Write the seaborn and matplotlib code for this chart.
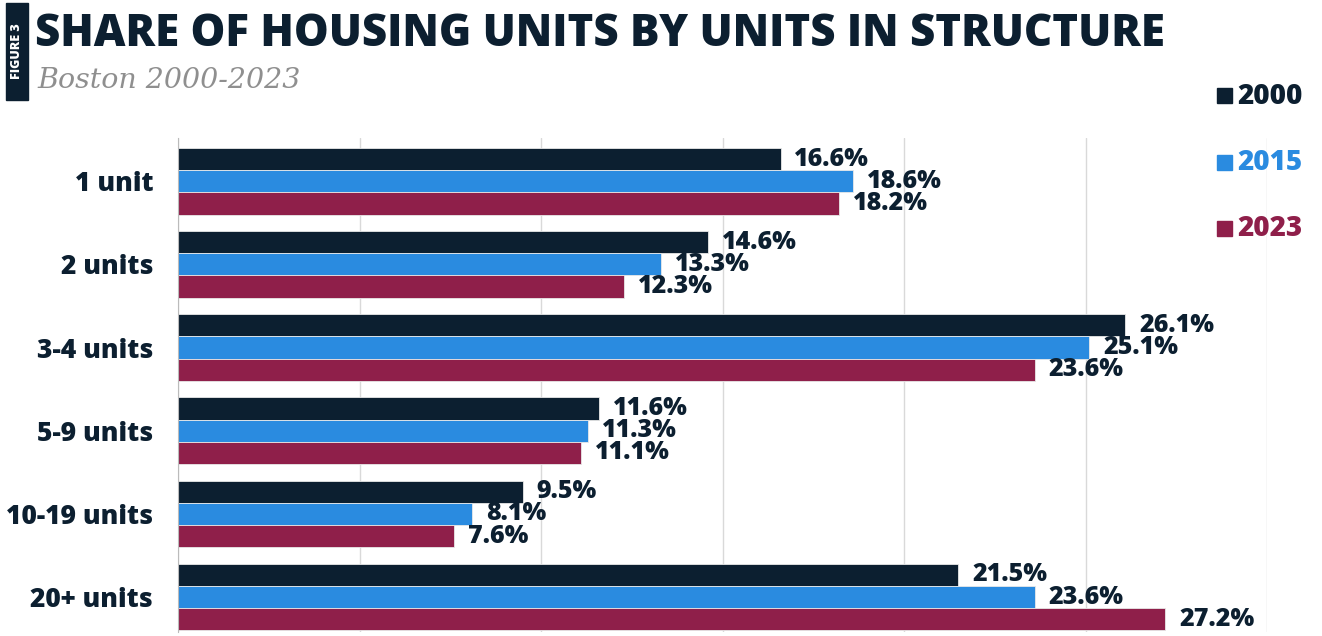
import matplotlib
matplotlib.use("Agg")
import matplotlib.pyplot as plt
import seaborn as sns
import pandas as pd
from matplotlib.patches import Rectangle

# data
categories = ["1 unit", "2 units", "3-4 units", "5-9 units", "10-19 units", "20+ units"]
years = ["2000", "2015", "2023"]
share_2000 = [16.6, 14.6, 26.1, 11.6, 9.5, 21.5]
share_2015 = [18.6, 13.3, 25.1, 11.3, 8.1, 23.6]
share_2023 = [18.2, 12.3, 23.6, 11.1, 7.6, 27.2]

navy = "#0c1f30"
blue = "#2a8be0"
crimson = "#8f1f4a"
colors = [navy, blue, crimson]

rows = []
for yr, vals in zip(years, [share_2000, share_2015, share_2023]):
    for cat, v in zip(categories, vals):
        rows.append({"units": cat, "year": yr, "share": v})
df = pd.DataFrame(rows)

sns.set_style("white")
plt.rcParams["font.family"] = ["Open Sans", "DejaVu Sans"]

W, H = 1322, 636
fig = plt.figure(figsize=(W / 100, H / 100), dpi=100)
ax = fig.add_axes([178 / W, 4 / H, (1267 - 178) / W, (632 - 138) / H])

sns.barplot(data=df, x="share", y="units", hue="year", order=categories,
            hue_order=years, palette=colors, saturation=1, orient="h", width=0.8,
            edgecolor="#e8e8e8", linewidth=0.6, legend=False, ax=ax)

ax.set_xlim(0, 30)
ax.set_ylim(5.42, -0.52)
ax.set_xticks([0, 5, 10, 15, 20, 25, 30])
ax.set_xticklabels([])
ax.grid(axis="x", color="#d9d9d9", linewidth=1)
ax.set_axisbelow(True)
for s in ["top", "right", "bottom"]:
    ax.spines[s].set_visible(False)
ax.spines["left"].set_color("#bbbbbb")
ax.set_xlabel("")
ax.set_ylabel("")
ax.tick_params(axis="y", length=0, pad=18)
for lab in ax.get_yticklabels():
    lab.set_fontsize(19)
    lab.set_fontweight("heavy")
    lab.set_color(navy)

for cont in ax.containers:
    ax.bar_label(cont, labels=[f"{v:.1f}%" for v in cont.datavalues],
                 padding=10, fontsize=18, fontweight="heavy", color=navy)

# header
fig.patches.append(Rectangle((6 / W, 1 - 100 / H), 22 / W, 97 / H,
                             transform=fig.transFigure, color=navy))
fig.text(17 / W, 1 - 51 / H, "FIGURE 3", rotation=90, color="white",
         fontsize=9, fontweight="heavy", ha="center", va="center")
fig.text(35 / W, 1 - 34 / H, "SHARE OF HOUSING UNITS BY UNITS IN STRUCTURE",
         fontsize=31.5, fontweight="heavy", color=navy, va="center")
fig.text(37 / W, 1 - 81 / H, "Boston 2000-2023", fontsize=20.5,
         style="italic", family="DejaVu Serif", color="#8f8f8f", va="center")

# legend
for yr, c, ypix in zip(years, colors, [96, 163, 229]):
    fig.patches.append(Rectangle((1217 / W, 1 - (ypix + 7) / H), 15 / W, 15 / H,
                                 transform=fig.transFigure, color=c))
    fig.text(1237 / W, 1 - ypix / H, yr, color=c, fontsize=20,
             fontweight="heavy", va="center")

fig.savefig("out.png", dpi=100)
